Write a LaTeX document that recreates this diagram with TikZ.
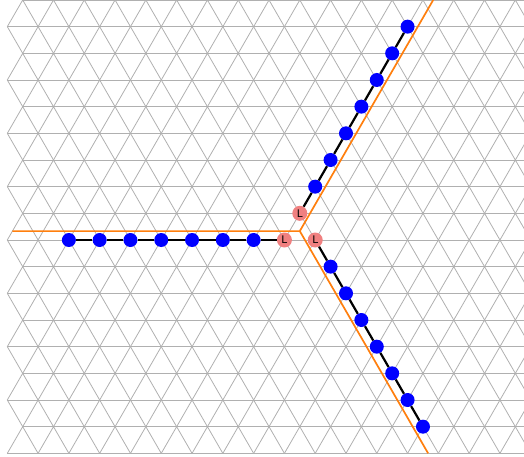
\documentclass[tikz,border=0pt]{standalone}
\usepackage{fontspec}
\setmainfont{DejaVu Sans}
\definecolor{gridgray}{RGB}{176,176,176}
\definecolor{rayorange}{RGB}{255,127,14}
\definecolor{lred}{RGB}{240,128,128}
\def\A{30.79}
\def\H{26.667}
\def\XO{7.3}
\def\XE{22.695}
\begin{document}
\begin{tikzpicture}[x=1pt,y=-1pt,
  gridline/.style={draw=gridgray, line width=0.8pt},
  ray/.style={draw=rayorange, line width=1.7pt},
  edge/.style={draw=black, line width=2.2pt},
  bluedot/.style={circle, fill=blue, inner sep=0pt, minimum size=14pt},
  lnode/.style={circle, fill=lred, inner sep=0pt, minimum size=15pt,
    font=\fontsize{10.5}{10.5}\selectfont}]
\useasboundingbox (0,0) rectangle (524,457);
% triangular grid
\begin{scope}
\clip (0,-2) rectangle (524,460);
\foreach \r in {0,...,17} {
  \pgfmathsetmacro\xs{mod(\r,2)==0 ? \XE : \XO}
  \draw[gridline] ({\xs},{\r*\H}) -- (530,{\r*\H});
}
\foreach \r in {0,2,...,16} \foreach \i in {0,...,16} {
  \draw[gridline] ({\XE+\i*\A-\A/2},{(\r+1)*\H}) -- ({\XE+\i*\A},{\r*\H}) -- ({\XE+\i*\A+\A/2},{(\r+1)*\H});
}
\foreach \r in {1,3,...,15} \foreach \i in {0,...,17} {
  \draw[gridline] ({\XO+\i*\A},{\r*\H}) -- ({\XO+\i*\A+\A/2},{(\r+1)*\H});
}
\foreach \r in {1,3,...,15} \foreach \i in {1,...,17} {
  \draw[gridline] ({\XO+\i*\A},{\r*\H}) -- ({\XO+\i*\A-\A/2},{(\r+1)*\H});
}
\end{scope}
% orange rays
\coordinate (c) at (299.8,231.1);
\coordinate (rl) at (12.3,231.1);
\coordinate (ru) at (433.2,0);
\coordinate (rd) at (428.1,453.3);
\draw[ray] (rl) -- (c) -- (ru);
\draw[ray] (c) -- (rd);
% nodes
\node[lnode] (lh) at (284.41,240) {L};
\node[lnode] (lu) at (299.8,213.33) {L};
\node[lnode] (ld) at (315.2,240) {L};
\foreach \k in {1,...,7} {
  \node[bluedot] (h\k) at ({284.41-\A*\k},240) {};
  \node[bluedot] (u\k) at ({299.8+15.395*\k},{213.33-26.667*\k}) {};
  \node[bluedot] (d\k) at ({315.2+15.395*\k},{240+26.667*\k}) {};
}
% edges
\draw[edge] (lh) -- (h1);
\draw[edge] (lu) -- (u1);
\draw[edge] (ld) -- (d1);
\foreach \k [evaluate=\k as \j using int(\k+1)] in {1,...,6} {
  \draw[edge] (h\k) -- (h\j);
  \draw[edge] (u\k) -- (u\j);
  \draw[edge] (d\k) -- (d\j);
}
\end{tikzpicture}
\end{document}
